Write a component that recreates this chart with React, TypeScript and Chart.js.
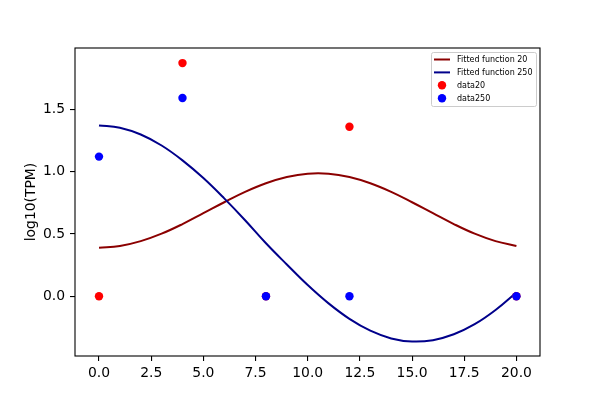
import React, { useEffect, useRef } from "react";
import { Chart, registerables } from "chart.js";

Chart.register(...registerables);

// fitted curves, sampled at whole days
const xFit = [0, 1, 2, 3, 4, 5, 6, 7, 8, 9, 10, 11, 12, 13, 14, 15, 16, 17, 18, 19, 20];
const fit20 = [
  0.39, 0.403, 0.442, 0.502, 0.579, 0.666, 0.754, 0.837, 0.906, 0.956, 0.983, 0.983, 0.956,
  0.906, 0.837, 0.754, 0.666, 0.579, 0.502, 0.442, 0.403,
];
const fit250 = [
  1.37, 1.352, 1.297, 1.209, 1.09, 0.948, 0.785, 0.61, 0.425, 0.255, 0.09, -0.057, -0.181,
  -0.276, -0.338, -0.363, -0.352, -0.305, -0.224, -0.11, 0.031,
];

// measured points
const dataX = [0, 4, 8, 12, 20];
const data20 = [0, 1.87, 0, 1.36, 0];
const data250 = [1.12, 1.59, 0, 0, 0];

const xTicks = [0, 2.5, 5, 7.5, 10, 12.5, 15, 17.5, 20];
const yTicks = [0, 0.5, 1, 1.5];

const FONT = "DejaVu Sans";

// matplotlib-style frame and legend inside the axes
const framePlugin = {
  id: "frameAndLegend",
  afterDraw(chart: any) {
    const { ctx, chartArea } = chart;
    ctx.save();
    ctx.strokeStyle = "#000";
    ctx.lineWidth = 1.1;
    ctx.strokeRect(chartArea.left, chartArea.top, chartArea.right - chartArea.left, chartArea.bottom - chartArea.top);

    const bx = 431.5;
    const by = 52.5;
    ctx.beginPath();
    ctx.roundRect(bx, by, 105, 54, 2);
    ctx.fillStyle = "rgba(255,255,255,0.8)";
    ctx.fill();
    ctx.strokeStyle = "#cccccc";
    ctx.lineWidth = 1;
    ctx.stroke();

    ctx.font = `8px ${FONT}`;
    ctx.textBaseline = "middle";
    ctx.textAlign = "left";
    chart.data.datasets.forEach((ds: any, i: number) => {
      const y = 59.5 + i * 12.9;
      if (ds.showLine) {
        ctx.beginPath();
        ctx.moveTo(434, y);
        ctx.lineTo(450, y);
        ctx.strokeStyle = ds.borderColor;
        ctx.lineWidth = 2;
        ctx.stroke();
      } else {
        ctx.beginPath();
        ctx.arc(442, y, 4.2, 0, Math.PI * 2);
        ctx.fillStyle = ds.backgroundColor;
        ctx.fill();
      }
      ctx.fillStyle = "#000";
      ctx.fillText(ds.label, 457, y + 0.5);
    });
    ctx.restore();
  },
};

const App: React.FC = () => {
  const chartRef = useRef<HTMLCanvasElement | null>(null);
  const chartInstance = useRef<Chart | null>(null);

  useEffect(() => {
    const ctx = chartRef.current?.getContext("2d");
    if (!ctx) return;
    if (chartInstance.current) chartInstance.current.destroy();

    chartInstance.current = new Chart(ctx, {
      type: "scatter",
      data: {
        datasets: [
          {
            type: "line",
            label: "Fitted function 20",
            data: xFit.map((x, i) => ({ x, y: fit20[i] })),
            borderColor: "#8b0000",
            backgroundColor: "#8b0000",
            borderWidth: 2,
            pointRadius: 0,
            showLine: true,
            tension: 0.4,
            order: 4,
          },
          {
            type: "line",
            label: "Fitted function 250",
            data: xFit.map((x, i) => ({ x, y: fit250[i] })),
            borderColor: "#00008b",
            backgroundColor: "#00008b",
            borderWidth: 2,
            pointRadius: 0,
            showLine: true,
            tension: 0.4,
            order: 3,
          },
          {
            label: "data20",
            data: dataX.map((x, i) => ({ x, y: data20[i] })),
            backgroundColor: "#ff0000",
            borderWidth: 0,
            pointRadius: 4.2,
            order: 2,
          },
          {
            label: "data250",
            data: dataX.map((x, i) => ({ x, y: data250[i] })),
            backgroundColor: "#0000ff",
            borderWidth: 0,
            pointRadius: 4.2,
            order: 1,
          },
        ],
      },
      options: {
        responsive: false,
        animation: false,
        layout: { padding: { left: 0, top: 48, right: 60, bottom: 0 } },
        plugins: {
          legend: { display: false },
          tooltip: { enabled: false },
        },
        scales: {
          x: {
            type: "linear",
            min: -1.15,
            max: 21.13,
            afterBuildTicks: (scale: any) => {
              scale.ticks = xTicks.map((v) => ({ value: v }));
            },
            afterFit: (scale: any) => {
              scale.height = 44;
            },
            grid: { drawOnChartArea: false, drawTicks: true, tickLength: 5, color: "#000", lineWidth: 1.1 },
            border: { display: false },
            ticks: {
              padding: 4,
              color: "#000",
              font: { family: FONT, size: 13.9 },
              maxRotation: 0,
              callback: (v: any) => Number(v).toFixed(1),
            },
          },
          y: {
            type: "linear",
            min: -0.479,
            max: 1.991,
            afterBuildTicks: (scale: any) => {
              scale.ticks = yTicks.map((v) => ({ value: v }));
            },
            afterFit: (scale: any) => {
              scale.width = 75;
            },
            grid: { drawOnChartArea: false, drawTicks: true, tickLength: 5, color: "#000", lineWidth: 1.1 },
            border: { display: false },
            title: {
              display: true,
              text: "log10(TPM)",
              color: "#000",
              font: { family: FONT, size: 13.9 },
              padding: { top: 23, bottom: 0 },
            },
            ticks: {
              padding: 5,
              color: "#000",
              font: { family: FONT, size: 13.9 },
              callback: (v: any) => Number(v).toFixed(1),
            },
          },
        },
      },
      plugins: [framePlugin],
    } as any);

    return () => {
      if (chartInstance.current) {
        chartInstance.current.destroy();
        chartInstance.current = null;
      }
    };
  }, []);

  return (
    <div style={{ position: "absolute", left: 0, top: 0, width: 600, height: 400, background: "#fff" }}>
      <canvas ref={chartRef} width={600} height={400}></canvas>
    </div>
  );
};

export default App;
